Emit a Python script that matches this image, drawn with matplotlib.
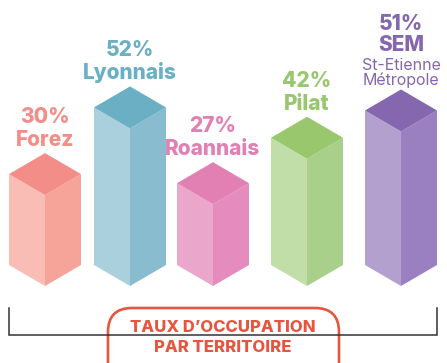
import matplotlib
matplotlib.use("Agg")
import matplotlib.pyplot as plt
from matplotlib.patches import Polygon, FancyBboxPatch

# occupation rate per territory (%)
territories = ["Forez", "Lyonnais", "Roannais", "Pilat", "SEM"]
rates = [30, 52, 27, 42, 51]
subtitles = ["", "", "", "", "St-Etienne\nMétropole"]

# face colours: top, left, right
top_colors = ["#f28d87", "#6aafc3", "#e27fb3", "#98c76e", "#8467ae"]
left_colors = ["#f9bdb6", "#aad0dd", "#eba6cb", "#c1dea8", "#b3a0ce"]
right_colors = ["#f6a39a", "#88bcce", "#e58bbd", "#a8d08a", "#9a80c0"]

centers = [45, 130, 213, 307, 401]   # pixel x of each prism
half_w = 36                          # half width of a prism (px)
px_per_unit = 3.03                   # vertical pixels per percentage point
depth = 21 / px_per_unit             # half height of the top diamond (in %)

W, H = 447, 363
fig = plt.figure(figsize=(W / 100, H / 100), dpi=100)

# bars axes: x in pixels, y in percent
ax = fig.add_axes([0, 0, 1, 1])
ax.set_xlim(0, W)
ax.set_ylim((286 - H) / px_per_unit, 286 / px_per_unit)
ax.axis("off")

for x, v, tc, lc, rc in zip(centers, rates, top_colors, left_colors, right_colors):
    left = [(x - half_w, depth), (x, 0), (x, v), (x - half_w, v + depth)]
    right = [(x, 0), (x + half_w, depth), (x + half_w, v + depth), (x, v)]
    top = [(x, v), (x + half_w, v + depth), (x, v + 2 * depth), (x - half_w, v + depth)]
    ax.add_patch(Polygon(left, closed=True, facecolor=lc, edgecolor="none"))
    ax.add_patch(Polygon(right, closed=True, facecolor=rc, edgecolor="none"))
    ax.add_patch(Polygon(top, closed=True, facecolor=tc, edgecolor="none"))

font = ["Inter", "DejaVu Sans"]
for x, v, name, sub, c in zip(centers, rates, territories, subtitles, top_colors):
    apex = (x, v + 2 * depth)
    y0 = 7
    if sub:
        lines = sub.split("\n")
        for i, line in enumerate(reversed(lines)):
            ax.annotate(line, apex, xytext=(0, 4 + 15 * i), textcoords="offset pixels",
                        ha="center", va="baseline", color=c, fontsize=11.5,
                        family=font)
        y0 = 4 + 15 * (len(lines) - 1) + 19
        pct_gap = 21
    else:
        pct_gap = 23
    ax.annotate(name, apex, xytext=(0, y0), textcoords="offset pixels",
                ha="center", va="baseline", color=c, fontsize=15,
                fontweight=800, family=font)
    ax.annotate(f"{v}%", apex, xytext=(0, y0 + pct_gap), textcoords="offset pixels",
                ha="center", va="baseline", color=c, fontsize=15,
                fontweight=800, family=font)

# bracket and caption box, in pixel coordinates
deco = fig.add_axes([0, 0, 1, 1])
deco.set_xlim(0, W)
deco.set_ylim(H, 0)
deco.axis("off")
deco.plot([9, 9, 437, 437], [308, 335, 335, 308], color="#333333", lw=1.1,
          solid_joinstyle="miter")
box = FancyBboxPatch((108, 308), 231, 80, boxstyle="round,pad=0,rounding_size=24",
                     facecolor="white", edgecolor="#e8553f", lw=1.9)
deco.add_patch(box)
deco.text(223, 327, "TAUX D’OCCUPATION", ha="center", va="center",
          color="#e8553f", fontsize=12, fontweight=800, family=font)
deco.text(223, 348, "PAR TERRITOIRE", ha="center", va="center",
          color="#e8553f", fontsize=12, fontweight=800, family=font)

fig.savefig("out.png", dpi=100)
